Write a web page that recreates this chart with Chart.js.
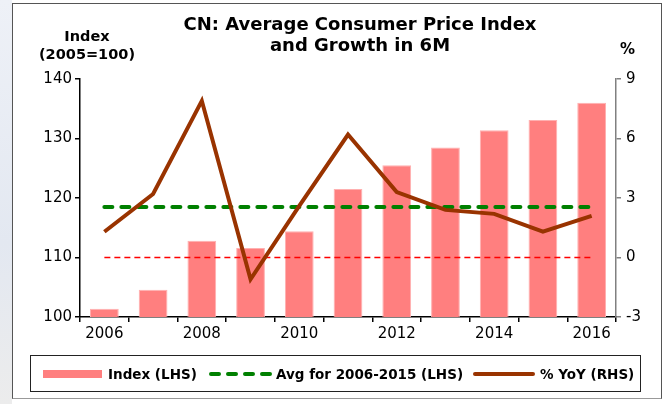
<!DOCTYPE html>
<html lang="en">
<head>
    <meta charset="UTF-8">
    <title>CN: Average Consumer Price Index</title>
    <script src="https://cdn.jsdelivr.net/npm/chart.js"></script>
    <style>
        body { margin: 0; width: 669px; height: 404px; overflow: hidden; background: #fff; font-family: 'DejaVu Sans', sans-serif; }
        .side { position: absolute; left: 0; top: 0; width: 12px; height: 404px; background: linear-gradient(to bottom, #eef1f7, #e3e8f1 60%, #ececec); }
        .frame { position: absolute; left: 12px; top: 3px; width: 650px; height: 396px; border: 1.5px solid #555; border-bottom-color: #999; box-sizing: border-box; background: #fff; }
        .wrap { position: absolute; left: 0; top: 0; width: 669px; height: 404px; }
        .txt { position: absolute; font-weight: bold; color: #000; white-space: nowrap; }
        .legend { position: absolute; left: 30px; top: 355px; width: 611px; height: 37px; border: 1.5px solid #222; box-sizing: border-box; }
        .lg { position: absolute; font-weight: bold; font-size: 13.5px; top: 366px; }
    </style>
</head>
<body>
    <div class="side"></div>
    <div class="frame"></div>
    <div class="wrap"><canvas id="cpiChart"></canvas></div>

    <!-- titles -->
    <div class="txt" style="left:0; width:720px; top:13px; text-align:center; font-size:18px; line-height:21px;">CN: Average Consumer Price Index<br>and Growth in 6M</div>
    <div class="txt" style="left:34px; width:106px; top:27px; text-align:center; font-size:14.5px; line-height:18px;">Index<br>(2005=100)</div>
    <div class="txt" style="left:620px; top:40px; font-size:15px;">%</div>

    <!-- legend -->
    <div class="legend"></div>
    <div style="position:absolute; left:43px; top:370px; width:59px; height:8px; background:#FF7F7F;"></div>
    <div class="lg" style="left:108px;">Index (LHS)</div>
    <svg style="position:absolute; left:208px; top:370px;" width="66" height="8">
        <line x1="3" y1="4" x2="64" y2="4" stroke="#008000" stroke-width="4" stroke-dasharray="8 9" stroke-linecap="round"/>
    </svg>
    <div class="lg" style="left:276px;">Avg for 2006-2015 (LHS)</div>
    <div style="position:absolute; left:473px; top:372px; width:62px; height:4px; background:#993300; border-radius:2px;"></div>
    <div class="lg" style="left:540px;">% YoY (RHS)</div>

    <script>
        const years = ['2006', '2007', '2008', '2009', '2010', '2011', '2012', '2013', '2014', '2015', '2016'];
        const indexValues = [101.4, 104.6, 112.8, 111.6, 114.4, 121.5, 125.5, 128.5, 131.4, 133.1, 136.0];
        const yoyValues = [1.3, 3.2, 7.9, -1.1, 2.6, 6.2, 3.3, 2.4, 2.2, 1.3, 2.1];
        const avgIndex = [118.5, 118.5, 118.5, 118.5, 118.5, 118.5, 118.5, 118.5, 118.5, 118.5, 118.5];
        const zeroLine = [0, 0, 0, 0, 0, 0, 0, 0, 0, 0, 0];
        const leftTicks = [100, 110, 120, 130, 140];
        const rightTicks = [-3, 0, 3, 6, 9];

        const tickFont = { family: 'DejaVu Sans', size: 15 };

        const ctx = document.getElementById('cpiChart').getContext('2d');
        new Chart(ctx, {
            data: {
                labels: years,
                datasets: [
                    {
                        type: 'line',
                        label: '% YoY (RHS)',
                        data: yoyValues,
                        yAxisID: 'y1',
                        borderColor: '#993300',
                        borderWidth: 4,
                        pointRadius: 0,
                        tension: 0,
                        order: 1
                    },
                    {
                        type: 'line',
                        label: 'Avg for 2006-2015 (LHS)',
                        data: avgIndex,
                        yAxisID: 'y',
                        borderColor: '#008000',
                        borderWidth: 4,
                        borderDash: [8, 9],
                        borderCapStyle: 'round',
                        pointRadius: 0,
                        order: 2
                    },
                    {
                        type: 'line',
                        label: 'zero',
                        data: zeroLine,
                        yAxisID: 'y1',
                        borderColor: '#FF0000',
                        borderWidth: 1.5,
                        borderDash: [6, 4],
                        pointRadius: 0,
                        order: 3
                    },
                    {
                        type: 'bar',
                        label: 'Index (LHS)',
                        data: indexValues,
                        yAxisID: 'y',
                        backgroundColor: '#FF7F7F',
                        borderColor: '#FFB0B0',
                        borderWidth: 1,
                        categoryPercentage: 1,
                        barPercentage: 0.59,
                        order: 4
                    }
                ]
            },
            options: {
                responsive: true,
                maintainAspectRatio: false,
                animation: false,
                layout: { padding: { top: 79, left: 0, right: 0, bottom: 57 } },
                plugins: {
                    legend: { display: false },
                    tooltip: { enabled: false }
                },
                scales: {
                    x: {
                        offset: true,
                        afterFit: (s) => { s.height = 30; },
                        border: { color: '#000', width: 1.5 },
                        grid: { offset: true, drawOnChartArea: false, tickLength: 5, color: '#000', lineWidth: 1.5 },
                        ticks: {
                            color: '#000', font: tickFont, padding: 3, autoSkip: false, maxRotation: 0,
                            callback: (v, i) => (i % 2 === 0 ? years[i] : '')
                        }
                    },
                    y: {
                        position: 'left',
                        min: leftTicks[0],
                        max: leftTicks[leftTicks.length - 1],
                        afterFit: (s) => { s.width = 80; },
                        afterBuildTicks: (s) => { s.ticks = leftTicks.map(v => ({ value: v })); },
                        border: { color: '#000', width: 1.5 },
                        grid: { drawOnChartArea: false, tickLength: 5, color: '#000', lineWidth: 1.5 },
                        ticks: { color: '#000', font: tickFont, padding: 3 }
                    },
                    y1: {
                        position: 'right',
                        min: rightTicks[0],
                        max: rightTicks[rightTicks.length - 1],
                        afterFit: (s) => { s.width = 53; },
                        afterBuildTicks: (s) => { s.ticks = rightTicks.map(v => ({ value: v })); },
                        border: { color: '#808080', width: 1.5 },
                        grid: { drawOnChartArea: false, tickLength: 5, color: '#808080', lineWidth: 1.5 },
                        ticks: { color: '#000', font: tickFont, padding: 5 }
                    }
                }
            }
        });
    </script>
</body>
</html>
